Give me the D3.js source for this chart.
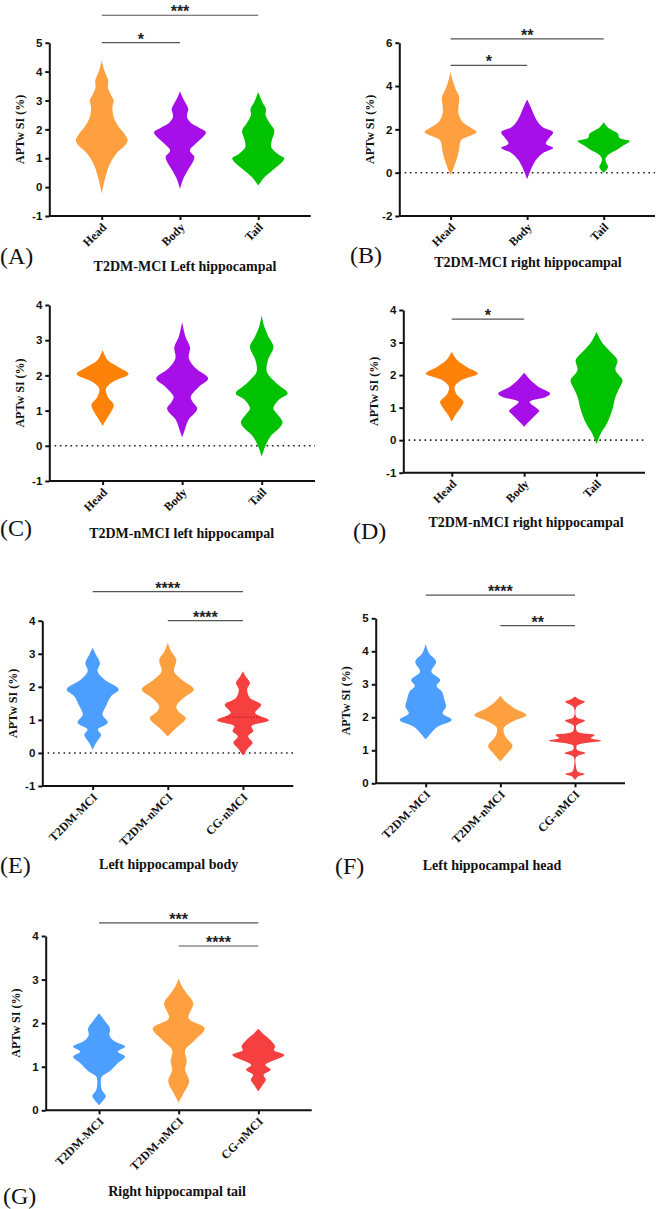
<!DOCTYPE html>
<html lang="en">
<head>
  <meta charset="UTF-8" />
  <title>APTw SI violins</title>
  <script src="https://d3js.org/d3.v7.min.js"></script>
  <style>
    body { margin: 0; background: #fff; }
    svg { display: block; }
    .ytick text { font-family: "Liberation Sans", Arial, sans-serif; font-weight: bold; font-size: 11.5px; fill: #111; }
    .xtick text { font-family: "Liberation Serif", "Times New Roman", serif; font-weight: bold; font-size: 12px; fill: #111; }
    .ylab { font-family: "Liberation Serif", "Times New Roman", serif; font-weight: bold; font-size: 12px; fill: #111; }
    .title { font-family: "Liberation Serif", "Times New Roman", serif; font-weight: bold; font-size: 14px; fill: #111; }
    .letter { font-family: "Liberation Serif", "Times New Roman", serif; font-size: 24px; fill: #111; }
    .stars { font-family: "Liberation Sans", Arial, sans-serif; font-weight: bold; font-size: 16px; fill: #222; }
  </style>
</head>
<body>
<svg id="fig" width="661" height="1209"></svg>
<script>
// categories
const regions = ["Head", "Body", "Tail"];
const groups = ["T2DM-MCI", "T2DM-nMCI", "CG-nMCI"];
const titles = [
  "T2DM-MCI Left hippocampal", "T2DM-MCI right hippocampal",
  "T2DM-nMCI left hippocampal", "T2DM-nMCI right hippocampal",
  "Left hippocampal body", "Left hippocampal head", "Right hippocampal tail"
];
const letters = ["(A)", "(B)", "(C)", "(D)", "(E)", "(F)", "(G)"];

// tick labels
const ticksA = [-1, 0, 1, 2, 3, 4, 5];
const ticksB = [-2, 0, 2, 4, 6];
const ticksC = [-1, 0, 1, 2, 3, 4];
const ticksD = [-1, 0, 1, 2, 3, 4];
const ticksE = [-1, 0, 1, 2, 3, 4];
const ticksF = [0, 1, 2, 3, 4, 5];
const ticksG = [0, 1, 2, 3, 4];

// violin outlines: [APTw SI value, relative density]
const violinsA = [
  [[-0.23,0],[0.0,0.05],[0.23,0.11],[0.69,0.26],[1.15,0.55],[1.45,0.9],[1.61,1],[1.85,0.87],[2.08,0.66],[2.42,0.46],[2.77,0.41],[3.0,0.46],[3.2,0.35],[3.45,0.24],[3.69,0.25],[4.04,0.1],[4.38,0]],
  [[-0.06,0],[0.23,0.1],[0.58,0.3],[0.92,0.52],[1.05,0.55],[1.27,0.38],[1.5,0.6],[1.75,0.9],[1.9,1],[2.05,0.75],[2.2,0.45],[2.4,0.28],[2.55,0.28],[2.7,0.32],[2.9,0.22],[3.1,0.1],[3.32,0]],
  [[0.06,0],[0.35,0.25],[0.58,0.55],[0.85,0.9],[1.0,1],[1.15,0.75],[1.38,0.5],[1.61,0.52],[1.96,0.62],[2.2,0.45],[2.5,0.28],[2.7,0.3],[2.9,0.18],[3.1,0.08],[3.29,0]]
];
const violinsB = [
  [[-0.12,0],[0.26,0.13],[0.72,0.26],[1.1,0.33],[1.49,0.4],[1.7,0.75],[1.88,1],[2.1,0.75],[2.35,0.45],[2.75,0.3],[3.2,0.32],[3.5,0.33],[3.9,0.18],[4.3,0.07],[4.65,0]],
  [[-0.3,0],[0.1,0.13],[0.57,0.33],[0.9,0.6],[1.15,1],[1.34,0.72],[1.6,0.85],[1.87,1],[2.1,0.6],[2.4,0.38],[2.7,0.25],[3.05,0.13],[3.38,0]],
  [[0.0,0],[0.15,0.12],[0.29,0.17],[0.45,0.1],[0.65,0.07],[0.85,0.2],[1.05,0.5],[1.25,0.75],[1.46,1],[1.6,0.6],[1.8,0.55],[1.95,0.35],[2.1,0.15],[2.33,0]]
];
const violinsC = [
  [[0.56,0],[0.73,0.13],[1.01,0.36],[1.16,0.43],[1.39,0.2],[1.63,0.13],[1.82,0.4],[2.04,1],[2.24,0.6],[2.43,0.2],[2.72,0]],
  [[0.24,0],[0.45,0.1],[0.73,0.24],[1.05,0.58],[1.25,0.4],[1.39,0.33],[1.68,0.65],[1.91,1],[2.2,0.52],[2.48,0.26],[2.81,0.3],[3.1,0.13],[3.52,0]],
  [[-0.31,0],[-0.03,0.13],[0.26,0.33],[0.54,0.72],[0.68,0.8],[0.92,0.58],[1.06,0.45],[1.3,0.65],[1.49,1],[1.77,0.58],[2.1,0.2],[2.43,0.24],[2.81,0.45],[3.1,0.26],[3.38,0.1],[3.71,0]]
];
const violinsD = [
  [[0.56,0],[0.77,0.14],[1.02,0.36],[1.18,0.45],[1.43,0.17],[1.64,0.11],[1.84,0.36],[2.05,1],[2.25,0.57],[2.46,0.21],[2.72,0]],
  [[0.41,0],[0.56,0.17],[0.82,0.5],[0.9,0.58],[1.02,0.42],[1.18,0.21],[1.33,0.83],[1.43,1],[1.64,0.55],[1.84,0.25],[2.07,0]],
  [[-0.12,0],[0.2,0.16],[0.51,0.4],[0.92,0.6],[1.33,0.73],[1.6,0.88],[1.84,1],[2.15,0.73],[2.46,0.8],[2.77,0.47],[3.02,0.2],[3.33,0]]
];
const violinsE = [
  [[0.1,0],[0.3,0.13],[0.55,0.32],[0.71,0.2],[0.91,0.58],[1.16,0.38],[1.41,0.51],[1.71,0.7],[1.92,1],[2.22,0.45],[2.47,0.19],[2.72,0.28],[2.97,0.13],[3.18,0]],
  [[0.5,0],[0.76,0.33],[1.05,0.69],[1.26,0.4],[1.41,0.33],[1.66,0.6],[1.92,1],[2.22,0.53],[2.47,0.24],[2.82,0.33],[3.07,0.13],[3.33,0]],
  [[-0.08,0],[0.15,0.2],[0.3,0.37],[0.5,0.2],[0.66,0.4],[0.81,0.33],[0.99,1],[1.21,0.47],[1.46,0.7],[1.66,0.27],[1.92,0.16],[2.12,0.27],[2.32,0.1],[2.47,0]]
];
const violinsF = [
  [[1.33,0],[1.52,0.2],[1.72,0.47],[1.92,1],[2.12,0.65],[2.32,0.78],[2.53,0.72],[2.78,0.62],[2.95,0.42],[3.13,0.56],[3.38,0.22],[3.69,0.4],[3.94,0.13],[4.22,0]],
  [[0.66,0],[0.91,0.27],[1.13,0.47],[1.41,0.2],[1.67,0.13],[1.87,0.47],[2.07,1],[2.27,0.55],[2.47,0.2],[2.65,0]],
  [[0.1,0],[0.2,0.1],[0.28,0.38],[0.36,0.1],[0.5,0.04],[0.8,0.05],[0.92,0.4],[1.02,0.07],[1.15,0.08],[1.29,1],[1.37,0.6],[1.46,0.75],[1.56,0.1],[1.75,0.05],[1.9,0.38],[2.0,0.06],[2.3,0.05],[2.47,0.38],[2.55,0.15],[2.63,0]]
];
const violinsG = [
  [[0.12,0],[0.22,0.15],[0.33,0.26],[0.45,0.12],[0.54,0.08],[0.77,0.1],[0.89,0.4],[1.08,0.72],[1.23,1],[1.35,0.72],[1.46,1],[1.6,0.55],[1.72,0.4],[1.88,0.42],[2.03,0.25],[2.23,0]],
  [[0.18,0],[0.39,0.19],[0.66,0.4],[0.93,0.25],[1.12,0.31],[1.38,0.25],[1.61,0.62],[1.88,1],[2.11,0.38],[2.46,0.56],[2.68,0.31],[2.84,0.13],[3.03,0]],
  [[0.43,0],[0.58,0.16],[0.7,0.29],[0.81,0.2],[0.93,0.47],[1.04,0.27],[1.27,1],[1.38,0.6],[1.46,0.65],[1.61,0.47],[1.77,0.16],[1.87,0]]
];

// significance: [from, to, stars, bar level]
const sigA = [[0, 1, "*", 5.0], [0, 2, "***", 5.95]];
const sigB = [[0, 1, "*", 4.95], [0, 2, "**", 6.18]];
const sigD = [[0, 1, "*", 3.72]];
const sigE = [[0, 2, "****", 4.88], [1, 2, "****", 4.0]];
const sigF = [[0, 2, "****", 5.7], [1, 2, "**", 4.78]];
const sigG = [[0, 2, "***", 4.3], [1, 2, "****", 3.77]];

const medianE = 1.08; // dotted median shown inside CG-nMCI violin (E)

const orange = "#FFA040", orangeDeep = "#FF8208", purple = "#A60FE8",
      green = "#00C200", blue = "#4C9FFF", red = "#F5403F";

const panels = [
  { cats: regions, ticks: ticksA, violins: violinsA, colors: [orange, purple, green], sig: sigA,
    x: [49.3, 310.7], y: [216, 42.7], zero: false, tx: 185, ty: 270.5, lx: 0, ly: 264 },
  { cats: regions, ticks: ticksB, violins: violinsB, colors: [orange, purple, green], sig: sigB,
    x: [399.3, 655], y: [216, 42.7], zero: true, tx: 528, ty: 266.5, lx: 350, ly: 262.5 },
  { cats: regions, ticks: ticksC, violins: violinsC, colors: [orangeDeep, purple, green], sig: [],
    x: [49.3, 315], y: [481, 305], zero: true, tx: 181.7, ty: 538, lx: 0, ly: 536 },
  { cats: regions, ticks: ticksD, violins: violinsD, colors: [orangeDeep, purple, green], sig: sigD,
    x: [403.3, 645], y: [472.7, 310], zero: true, tx: 526, ty: 526.5, lx: 353, ly: 539 },
  { cats: groups, ticks: ticksE, violins: violinsE, colors: [blue, orange, red], sig: sigE,
    x: [42.3, 293.3], y: [786, 620.7], zero: true, tx: 168.7, ty: 868.5, lx: 0, ly: 872.5, median: medianE },
  { cats: groups, ticks: ticksF, violins: violinsF, colors: [blue, orange, red], sig: sigF,
    x: [375.7, 625], y: [783.3, 618.3], zero: false, tx: 492, ty: 870, lx: 335, ly: 874 },
  { cats: groups, ticks: ticksG, violins: violinsG, colors: [blue, orange, red], sig: sigG,
    x: [45.7, 311.7], y: [1110.3, 936], zero: false, tx: 177, ty: 1196, lx: 3, ly: 1204 }
];

const svg = d3.select("#fig");
const halfWidth = d3.scaleLinear().domain([0, 1]).range([0, 26]);

panels.forEach((p, i) => {
  const g = svg.append("g");
  const x = d3.scalePoint().domain(p.cats).range(p.x).padding(0.67);
  const y = d3.scaleLinear().domain(d3.extent(p.ticks)).range(p.y);

  // zero reference
  if (p.zero) {
    g.append("line")
      .attr("x1", p.x[0]).attr("x2", p.x[1])
      .attr("y1", y(0)).attr("y2", y(0))
      .attr("stroke", "#222").attr("stroke-width", 1.6)
      .attr("stroke-dasharray", "1.6,3.7");
  }

  // violins
  p.cats.forEach((c, j) => {
    const cx = x(c);
    const area = d3.area()
      .curve(d3.curveCatmullRom.alpha(0.5))
      .y(d => y(d[0]))
      .x0(d => cx - halfWidth(d[1]))
      .x1(d => cx + halfWidth(d[1]));
    g.append("path")
      .datum(p.violins[j])
      .attr("d", area)
      .attr("fill", p.colors[j]);
  });

  if (p.median != null) {
    const cx = x(p.cats[2]);
    g.append("line")
      .attr("x1", cx - 17).attr("x2", cx + 17)
      .attr("y1", y(p.median)).attr("y2", y(p.median))
      .attr("stroke", "#B01818").attr("stroke-width", 1)
      .attr("stroke-dasharray", "1.5,1.5");
  }

  // axes
  const yAxis = d3.axisLeft(y).tickValues(p.ticks).tickSize(4).tickSizeOuter(0)
    .tickPadding(3).tickFormat(d => String(d));
  const ya = g.append("g").attr("class", "ytick")
    .attr("transform", `translate(${p.x[0]},0)`).call(yAxis);
  ya.selectAll("path, line").attr("stroke", "#111").attr("stroke-width", 2);

  const xAxis = d3.axisBottom(x).tickSize(4).tickSizeOuter(0).tickPadding(4);
  const xa = g.append("g").attr("class", "xtick")
    .attr("transform", `translate(0,${p.y[0]})`).call(xAxis);
  xa.selectAll("path, line").attr("stroke", "#111").attr("stroke-width", 2);
  xa.select(".domain").attr("d", `M${p.x[0]},0H${p.x[1]}`);
  xa.selectAll(".tick text")
    .attr("text-anchor", "end")
    .attr("dy", null)
    .attr("y", 0)
    .attr("transform", "translate(3,10) rotate(-45)")
    .attr("dominant-baseline", "middle");

  // y label
  g.append("text").attr("class", "ylab")
    .attr("transform", `translate(${p.x[0] - 28},${(p.y[0] + p.y[1]) / 2}) rotate(-90)`)
    .attr("text-anchor", "middle")
    .attr("dominant-baseline", "middle")
    .text("APTw SI (%)");

  // significance bars
  p.sig.forEach(s => {
    const yy = y(s[3]);
    const xa0 = x(p.cats[s[0]]), xa1 = x(p.cats[s[1]]);
    g.append("line")
      .attr("x1", xa0).attr("x2", xa1).attr("y1", yy).attr("y2", yy)
      .attr("stroke", "#555").attr("stroke-width", 1.2);
    g.append("text").attr("class", "stars")
      .attr("x", (xa0 + xa1) / 2).attr("y", yy + 2)
      .attr("text-anchor", "middle")
      .text(s[2]);
  });

  // title and panel letter
  g.append("text").attr("class", "title")
    .attr("x", p.tx).attr("y", p.ty).attr("text-anchor", "middle")
    .text(titles[i]);
  g.append("text").attr("class", "letter")
    .attr("x", p.lx).attr("y", p.ly)
    .text(letters[i]);
});
</script>
</body>
</html>
